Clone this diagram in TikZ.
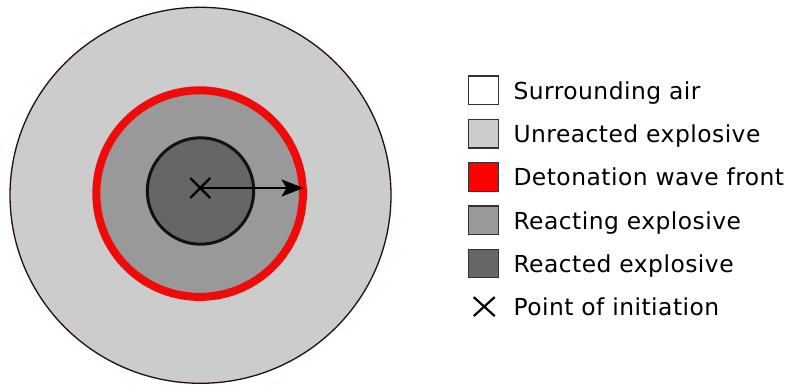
\documentclass[tikz,border=0pt]{standalone}
\usepackage{fontspec}
\setmainfont{DejaVu Sans}[LetterSpace=2.0]
\usetikzlibrary{arrows.meta}

\definecolor{unreacted}{HTML}{CCCCCC}
\definecolor{reacting}{HTML}{999999}
\definecolor{reacted}{HTML}{666666}
\definecolor{wavefront}{RGB}{240,10,10}
\definecolor{rim}{RGB}{40,12,12}
\definecolor{boxedge}{HTML}{333333}

\tikzset{
  swatch/.style={draw=boxedge, line width=1.3pt, minimum width=30pt, minimum height=28.5pt, inner sep=0pt, outer sep=0pt},
  legendtext/.style={anchor=base west, inner sep=0pt, font=\fontsize{23.4}{28}\selectfont},
  xmark/.style={line width=2.2pt, draw=black},
}

\begin{document}
\begin{tikzpicture}[x=1pt, y=-1pt]
  \useasboundingbox[fill=white] (0,0) rectangle (792,385);

  % explosive charge, outer boundary
  \draw[rim, fill=unreacted, line width=1.3pt] (200.5,195.3) ellipse [x radius=190.5, y radius=188];
  % reacting zone bounded by the detonation front
  \draw[wavefront, fill=reacting, line width=8pt] (199.6,193.6) circle [radius=103.3];
  % reacted core
  \draw[black!93, fill=reacted, line width=3pt] (200.5,191) circle [radius=53.2];

  % point of initiation and direction of propagation
  \coordinate (origin) at (200.3,188);
  \coordinate (tip) at (303.5,188);
  \draw[xmark] ([shift={(-10,-10)}]origin) -- ([shift={(10,10)}]origin)
               ([shift={(-10,10)}]origin) -- ([shift={(10,-10)}]origin);
  \draw[line width=1.3pt, -{Stealth[length=22pt, width=17pt, inset=5pt]}] (origin) -- (tip);

  % legend
  \node[swatch, fill=white]      (s1) at (483.3,90.3)  {};
  \node[swatch, fill=unreacted]  (s2) at (483.3,133.6) {};
  \node[swatch, fill=red]        (s3) at (483.3,176.9) {};
  \node[swatch, fill=reacting]   (s4) at (483.3,220.2) {};
  \node[swatch, fill=reacted]    (s5) at (483.3,263.5) {};
  \coordinate (s6) at (484.2,306.6);
  \draw[xmark] ([shift={(-10.5,-9.5)}]s6) -- ([shift={(10.5,9.5)}]s6)
               ([shift={(-10.5,9.5)}]s6) -- ([shift={(10.5,-9.5)}]s6);

  \node[legendtext] (t1) at (513.3,99.3)  {Surrounding air};
  \node[legendtext] (t2) at (513.3,142.6) {Unreacted explosive};
  \node[legendtext] (t3) at (513.3,185.9) {Detonation wave front};
  \node[legendtext] (t4) at (513.3,229.2) {Reacting explosive};
  \node[legendtext] (t5) at (513.3,272.5) {Reacted explosive};
  \node[legendtext] (t6) at (513.3,315.8) {Point of initiation};
\end{tikzpicture}
\end{document}
